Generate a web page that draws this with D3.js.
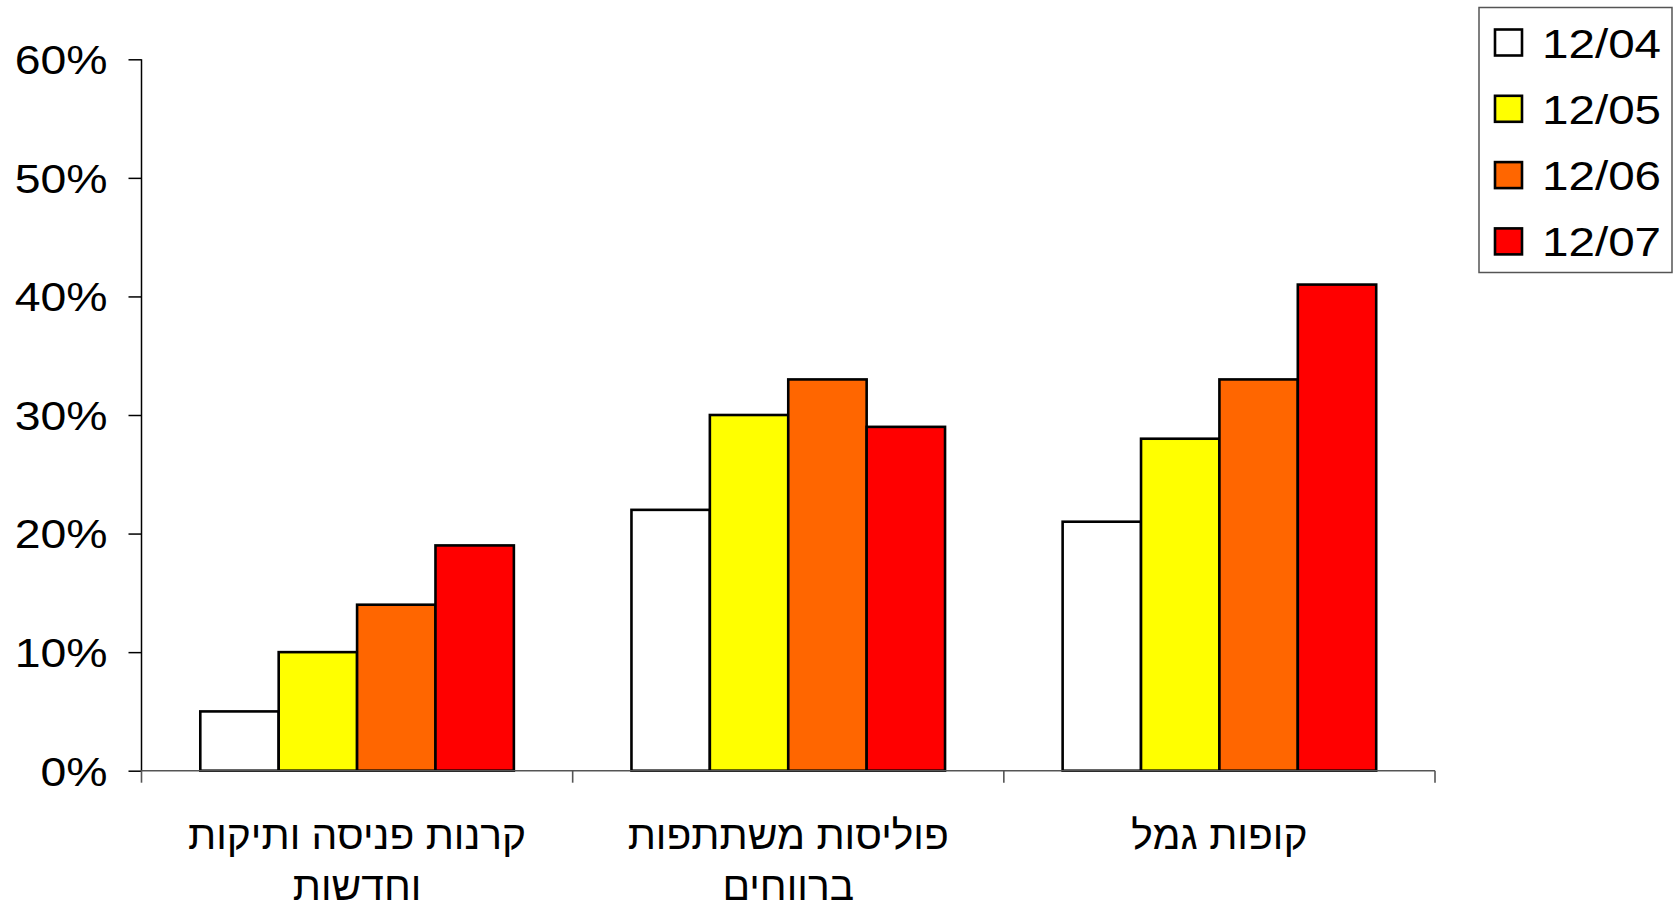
<!DOCTYPE html>
<html lang="he">
<head>
<meta charset="utf-8">
<script src="https://cdn.jsdelivr.net/npm/d3@7"></script>
<style>
  html, body { margin: 0; padding: 0; background: #fff; }
  svg { display: block; }
  text { font-family: "Liberation Sans", Arial, sans-serif; fill: #000; }
</style>
</head>
<body>
<svg id="chart" width="1677" height="905"></svg>
<script>
// Categories (each split into the lines they are shown on)
const categories = ["קרנות פניסה ותיקות וחדשות", "פוליסות משתתפות ברווחים", "קופות גמל"];
const categoryLines = [["קרנות פניסה ותיקות", "וחדשות"], ["פוליסות משתתפות", "ברווחים"], ["קופות גמל"]];

// Series (dates) and their values, in percent, per category
const series = ["12/04", "12/05", "12/06", "12/07"];
const values_1204 = [5, 22, 21];
const values_1205 = [10, 30, 28];
const values_1206 = [14, 33, 33];
const values_1207 = [19, 29, 41];
const seriesColors = ["#FFFFFF", "#FFFF00", "#FF6600", "#FF0000"];

// Y axis ticks
const yTicks = [0, 10, 20, 30, 40, 50, 60];

const seriesValues = [values_1204, values_1205, values_1206, values_1207];
const rows = [];
categories.forEach((c, ci) => {
  series.forEach((s, si) => rows.push({ category: c, series: s, value: seriesValues[si][ci] }));
});

const svg = d3.select("#chart");
const NUM_STRETCH = 1.16;    // numerals are set slightly wide
const HEB_STRETCH = 1.02;
const FONT = 40;

const plot = { left: 141.5, right: 1435, top: 59.3, bottom: 770.7 };

const y = d3.scaleLinear().domain([0, 60]).range([plot.bottom, plot.top]);
const x0 = d3.scaleBand().domain(categories).range([plot.left, plot.right]).paddingInner(0).paddingOuter(0);
const bw = x0.bandwidth();
const gap = bw * 0.75 / 5.5;   // 150% gap width split on both sides of a group
const x1 = d3.scaleBand().domain(series).range([gap, bw - gap]).padding(0);
const color = d3.scaleOrdinal().domain(series).range(seriesColors);

// Bars
svg.append("g")
  .selectAll("rect")
  .data(rows)
  .join("rect")
  .attr("x", d => x0(d.category) + x1(d.series))
  .attr("y", d => y(d.value))
  .attr("width", x1.bandwidth())
  .attr("height", d => y(0) - y(d.value))
  .attr("fill", d => color(d.series))
  .attr("stroke", "#000")
  .attr("stroke-width", 2.6);

// Y axis
const yAxis = svg.append("g")
  .attr("transform", `translate(${plot.left},0)`)
  .call(d3.axisLeft(y).tickValues(yTicks).tickSize(13).tickFormat(d => d + "%"));
yAxis.select(".domain").attr("stroke", "#000").attr("stroke-width", 1.5).attr("d", `M0,${plot.top}H0V${plot.bottom}`);
yAxis.selectAll(".tick line").attr("stroke", "#000").attr("stroke-width", 1.5);
yAxis.selectAll(".tick text").remove();
yAxis.selectAll(".tick").append("text")
  .attr("transform", `translate(-34,0) scale(${NUM_STRETCH},1)`)
  .attr("dy", "0.36em")
  .attr("text-anchor", "end")
  .attr("font-size", FONT)
  .text(d => d + "%");

// X axis with tick marks at category boundaries
const xAxis = svg.append("g").attr("transform", `translate(0,${plot.bottom})`);
xAxis.append("line")
  .attr("x1", plot.left).attr("x2", plot.right)
  .attr("stroke", "#555").attr("stroke-width", 1.6);
const bounds = categories.map(c => x0(c)).concat([plot.right]);
xAxis.selectAll("line.tick")
  .data(bounds)
  .join("line")
  .attr("class", "tick")
  .attr("x1", d => d).attr("x2", d => d)
  .attr("y1", 0).attr("y2", 12)
  .attr("stroke", "#555").attr("stroke-width", 1.6);

// Category labels
const labels = xAxis.selectAll("g.label")
  .data(categories)
  .join("g")
  .attr("class", "label")
  .attr("transform", c => `translate(${x0(c) + bw / 2},0)`);
labels.each(function (c, i) {
  const g = d3.select(this);
  categoryLines[i].forEach((line, li) => {
    g.append("text")
      .attr("transform", `translate(0,${78 + li * 51}) scale(${HEB_STRETCH},1)`)
      .attr("text-anchor", "middle")
      .attr("direction", "rtl")
      .attr("font-size", FONT)
      .text(line);
  });
});

// Legend
const legend = svg.append("g").attr("transform", "translate(1479,7.5)");
legend.append("rect")
  .attr("width", 193).attr("height", 265)
  .attr("fill", "#fff").attr("stroke", "#555").attr("stroke-width", 1.5);
const items = legend.selectAll("g.item")
  .data(series)
  .join("g")
  .attr("class", "item")
  .attr("transform", (d, i) => `translate(16,${22 + i * 66.3})`);
items.append("rect")
  .attr("width", 27).attr("height", 26)
  .attr("fill", d => color(d))
  .attr("stroke", "#000").attr("stroke-width", 2.6);
items.append("text")
  .attr("transform", `translate(47,28) scale(1.19,1)`)
  .attr("font-size", FONT)
  .text(d => d);
</script>
</body>
</html>
